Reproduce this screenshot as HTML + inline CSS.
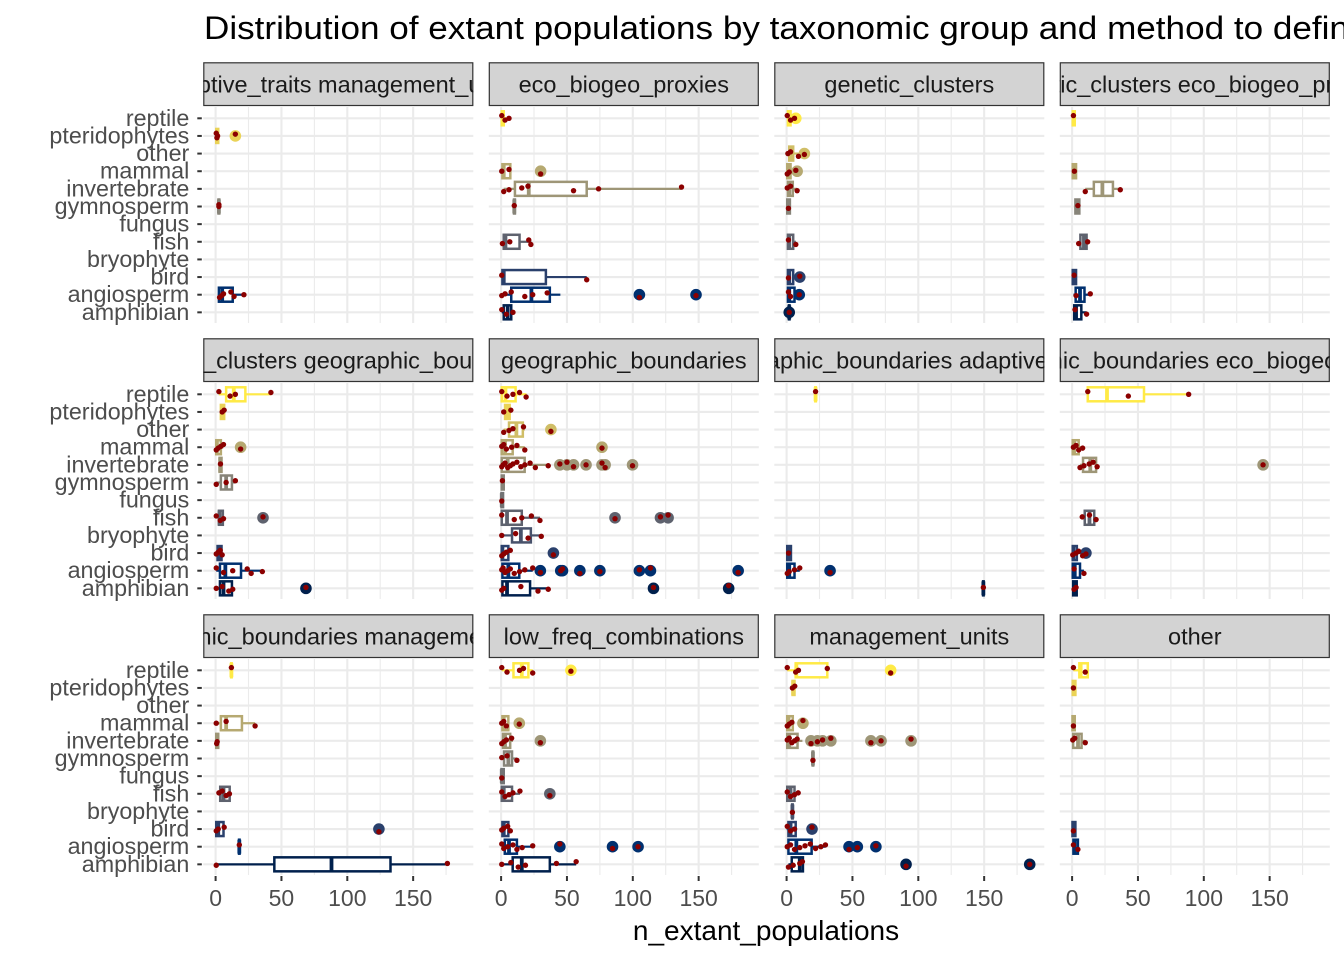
<!DOCTYPE html>
<html><head><meta charset="utf-8"><style>
html,body{margin:0;padding:0;background:#fff;}
svg{display:block;font-family:"Liberation Sans",Arial,sans-serif;}
</style></head><body>
<svg id="chart" width="1344" height="960" viewBox="0 0 1344 960" xmlns="http://www.w3.org/2000/svg">
<text transform="translate(204,39) scale(1.08,1)" x="0" y="0" font-size="32.5" fill="#000">Distribution of extant populations by taxonomic group and method to define populations</text>
<text x="766" y="940" font-size="28" text-anchor="middle" fill="#000">n_extant_populations</text>
</svg>
<script>
const categories = ["reptile","pteridophytes","other","mammal","invertebrate","gymnosperm","fungus","fish","bryophyte","bird","angiosperm","amphibian"];
const catColors = {amphibian:"#00204D",angiosperm:"#00306F",bird:"#2A406C",bryophyte:"#48526B",fish:"#5E626E",fungus:"#727374",gymnosperm:"#878479",invertebrate:"#9E9677",mammal:"#B6A971",other:"#D0BE67",pteridophytes:"#EAD357",reptile:"#FFEA46"};
const xTicks = [0,50,100,150];
const xMinor = [25,75,125,175];
const panelNames = ["adaptive_traits management_units","eco_biogeo_proxies","genetic_clusters","genetic_clusters eco_biogeo_proxies","genetic_clusters geographic_boundaries","geographic_boundaries","geographic_boundaries adaptive_traits","geographic_boundaries eco_biogeo_proxies","geographic_boundaries management_units","low_freq_combinations","management_units","other"];
// [category, min, q1, median, q3, max, outliers, points]
const p1 = [["pteridophytes",0,0.5,1,2,3,[15],[0.5,1,1.5,15]],["gymnosperm",2,2.2,2.5,2.8,3,[],[2.5,2.5]],["angiosperm",2,2.5,5,13,21.5,[],[3,4.7,6,11.6,14,21.5]]];
const p2 = [["reptile",0,0.5,1,2,6,[],[0.5,3,6]],["mammal",0.5,1,2,7,8,[30],[0.5,6,30]],["invertebrate",2,10.5,21,65,137,[],[2,6,15.7,20.4,55,74,137]],["gymnosperm",9.5,9.8,10,10.5,11,[],[10]],["fish",1,2,3.3,14,23,[],[1,6.6,21,22.6]],["bird",0.5,1,2,34,65,[],[0.5,65]],["angiosperm",0.5,7.7,23,37,45,[105,148],[0.5,3,7.7,18,24,35,105,148]],["amphibian",0.5,2,5,7.7,9,[],[0.5,4,9]]];
const p3 = [["reptile",0.5,1,2,3,5,[7],[0.5,3,6]],["other",1,2,3,5,9,[13.5],[1,3,9,13.5]],["mammal",0,0.5,1.5,3,4,[8],[0.5,2,7]],["invertebrate",0.5,1,2,4.7,8,[],[0.5,3,8]],["gymnosperm",0,0.5,1,2.5,2.5,[],[1.4]],["fish",0.5,1,2,5,7,[],[1.4,7]],["bird",0.5,1,2,5,5,[10],[1.4,10]],["angiosperm",0.5,1,2,6,6,[9.6],[1.4,3,9.6]],["amphibian",1.5,1.8,2,2.2,2.5,[2],[2]]];
const p4 = [["reptile",0,0.5,1,2,3,[],[1]],["mammal",0,0.5,1.5,3,4,[],[1.7]],["invertebrate",10,16.5,23,31,36.6,[],[10,36.6]],["gymnosperm",2.2,2.5,4,5.5,6,[],[4.4]],["fish",5,6.3,9,11,11.8,[],[5,11.8]],["bird",0,0.5,1,3,3.6,[],[1.5]],["angiosperm",1,2.7,6,9.4,13.8,[],[3,13.8]],["amphibian",1,1.6,3,7,11,[],[2.2,11]]];
const p5 = [["reptile",2.5,8,13.8,22.6,42,[],[2.5,11,15,42]],["pteridophytes",3.3,4,5,6.5,7.4,[],[5,6.5]],["mammal",0,0.5,1,4,6,[19],[0.5,2,4,6,19]],["invertebrate",2.5,3,3.5,4.5,5,[],[3.7]],["gymnosperm",0.5,4,8,12.4,15,[],[0.5,8,15]],["fish",2,2.5,3,5.5,6,[36],[0.5,3.5,6,36]],["bird",0.5,1.5,3,4.5,5,[],[0.5,2,3.5,5]],["angiosperm",0.5,3.3,7.4,19.3,35.5,[],[0.5,6,13,24,27,35.5]],["amphibian",0,3.3,6,12.4,14.3,[68.6],[0.5,5,10,13,68.6]]];
const p6 = [["reptile",0,0.5,3.3,11,19.3,[],[0.5,4.5,9,14,19]],["pteridophytes",2,3,5,6.5,7.4,[],[2,7.4]],["other",2,6,11.6,16.5,18,[37.8],[2,6,9,17,37.8]],["mammal",0.5,0.5,3,8.8,18,[76.6],[0.5,2,4,8,12,18,76.6]],["invertebrate",0.5,0.5,5,17.9,35.8,[44.6,50,55,64.5,76.6,79,99.8],[0.5,1.5,3,5,7,9,12,15,18,22,26,35.8,44.6,50,55,64.5,76.6,79,99.8]],["gymnosperm",0,0.5,1,2,2.8,[],[1]],["fungus",0,0.3,0.5,1.5,2,[],[0.5]],["fish",0.5,0.5,4.5,15.7,29.5,[86.5,121,126.8],[0.5,10,15.7,23,29.5,86.5,121,126.8]],["bryophyte",0,8.3,15,22.6,31.1,[],[0.5,11,20.5,30.5]],["bird",0,0.5,1,5.5,6,[39.7],[0.5,2,4,7,39.7]],["angiosperm",0.5,1,5.5,13.8,24,[29.8,45.3,46.6,59.8,75,105,113.4,180],[0.5,1.5,3,5,7,10,14,18,24,29.8,45.3,46.6,59.8,75,105,113.4,180]],["amphibian",0.5,1,4.5,22,35.8,[115.7,172.8],[0.5,2,15,28,35.8,115.7,172.8]]];
const p7 = [["reptile",21.5,21.8,22,22.2,22.5,[],[22]],["bird",0,0.5,1.5,3.3,3.5,[],[1.5]],["angiosperm",0.5,0.5,2,6,10,[33],[0.5,2,6,10,33]],["amphibian",149,149.2,149.4,149.6,150,[],[149.4]]];
const p8 = [["reptile",11.9,11.9,26.5,54.6,88.5,[],[11.9,42.7,88.5]],["mammal",0,0.5,1.5,5,8,[],[1,3,5,8]],["invertebrate",6,8.3,13.8,18.2,19,[145],[6,9,13,16,19,145]],["fish",7.7,9.6,13.2,16.8,18.2,[],[7.7,13.2,18.2]],["bird",0,0.5,1,3.6,8,[10.5],[0.5,3,5,8,10.5]],["angiosperm",0.5,0.5,2,6,9,[],[1.5,9]],["amphibian",0.5,0.8,1.5,3.5,4,[],[1.5,3]]];
const p9 = [["reptile",11.5,11.8,12,12.2,12.5,[],[12]],["mammal",0.5,4,8,20,30,[],[0.5,8,30]],["invertebrate",0,0.5,1,2,2,[],[0.8,1.2]],["fish",3.3,3.5,6,10.7,11,[],[2.5,5,8,10.5]],["bird",0,0.5,2,6,6,[124],[0.5,2,6.5,124]],["angiosperm",17.5,17.8,18,18.2,18.5,[],[18]],["amphibian",0.5,44.6,88,132.8,176,[],[0.5,176]]];
const p10 = [["reptile",0.5,9.4,15.7,20.7,24,[53],[0.5,4.5,14,17,24,53]],["mammal",0.5,1,2,5.5,6,[13.8],[0.5,2,4,13.8]],["invertebrate",0.5,1.4,3,6.9,9,[29.8],[0.5,2,4,8,29.8]],["gymnosperm",0.5,2.2,5.5,8.3,12,[],[0.5,4.5,12]],["fungus",0,0.3,0.5,2,2,[],[0.5]],["fish",0.5,0.5,2,8.3,14.3,[37],[0.5,3,6,9,14.3,37]],["bird",0.5,1,2,5.5,7,[],[0.5,2,5,7]],["angiosperm",0.5,2.8,6,12,24,[44.6,84.6,104],[0.5,2,5,9,12,16,24,44.6,84.6,104]],["amphibian",0.5,8.8,15.7,37,57,[],[0.5,7.4,13,18.5,42,57]]];
const p11 = [["reptile",0.5,6.9,7.4,30.9,30.9,[79],[0.5,6.9,9,30.9,79]],["pteridophytes",4,4.5,5,6,6.6,[],[4.4,6.2]],["mammal",0,0.5,1.5,4.7,6,[12.4],[0.5,2,4,12.4]],["invertebrate",0.5,0.5,2,8.3,12,[18.5,23.4,27.3,33.6,64,71.7,94.5],[0.5,2,4,6,8,18.5,23.4,27.3,33.6,64,71.7,94.5]],["gymnosperm",19.5,19.8,20,20.2,20.5,[],[20]],["fish",0,0.5,3,6,8.8,[],[0.5,3,6,8.8]],["bryophyte",4,4.2,4.4,4.6,4.8,[],[4.4]],["bird",0,1.4,3,6.9,8,[19.3],[0.5,3,6,19.3]],["angiosperm",0.5,1.4,7.4,19,29.5,[47.4,53.7,67.8],[0.5,3,6,10,14,18,22,26,29.5,47.4,53.7,67.8]],["amphibian",1.4,3.9,10,12.4,12.4,[90.7,184.6],[1.4,5,10,12,90.7,184.6]]];
const p12 = [["reptile",1,5.5,6.5,11.9,11.9,[],[1,10]],["pteridophytes",0,0.5,1,2.5,2.8,[],[1]],["mammal",0,0.3,1,2,2.5,[],[1]],["invertebrate",0.5,0.8,4.5,7.2,10,[],[0.5,2,10]],["bird",0,0.3,1,2.5,2.8,[],[1]],["angiosperm",0.5,1,2,4.4,5,[],[1,4.4]]];
const panelStats = [p1,p2,p3,p4,p5,p6,p7,p8,p9,p10,p11,p12];

const NS = "http://www.w3.org/2000/svg";
const svg = document.getElementById("chart");
const colLefts = [203.3,488.8,774.3,1059.8];
const stripTops = [62.3,338.3,614.3];
const PW = 270, STRIPH = 43.7, PH = 217, PXU = 1.317, X0OFF = 12.3;
function mk(tag, attrs, parent){const e=document.createElementNS(NS,tag);for(const k in attrs)e.setAttribute(k,attrs[k]);(parent||svg).appendChild(e);return e;}
function xScale(col, v){return colLefts[col]+X0OFF+v*PXU;}
function yScale(row, cat){return stripTops[row]+STRIPH+12.3+categories.indexOf(cat)*17.64;}

const defs = mk("defs",{});
panelNames.forEach((name,pi)=>{
  const col = pi%4, row = Math.floor(pi/4);
  const L = colLefts[col], T = stripTops[row], PT = T+STRIPH;
  const g = mk("g",{});
  
  
  const cp = mk("clipPath",{id:"clip"+pi},defs);
  mk("rect",{x:L,y:T,width:PW,height:STRIPH},cp);
  const strip = mk("rect",{x:L+0.5,y:T+0.5,width:PW-1,height:STRIPH-1,fill:"#D3D3D3",stroke:"#333333","stroke-width":1.2},g);
  
  
  const st = mk("text",{x:L+PW/2,y:T+30,"font-size":23.5,"text-anchor":"middle",fill:"#1A1A1A","clip-path":"url(#clip"+pi+")"},g);
  st.textContent = name;
  
  
  xMinor.forEach(v=>{const x=xScale(col,v);const l=mk("line",{x1:x,x2:x,y1:PT,y2:PT+PH,stroke:"#EBEBEB","stroke-width":1.1},g);
    
    });
  xTicks.forEach(v=>{const x=xScale(col,v);const l=mk("line",{x1:x,x2:x,y1:PT,y2:PT+PH,stroke:"#EBEBEB","stroke-width":2.1},g);
    
    });
  categories.forEach(c=>{const y=yScale(row,c);const l=mk("line",{x1:L,x2:L+PW,y1:y,y2:y,stroke:"#EBEBEB","stroke-width":2.1},g);
    
    });
  if(col===0){
    categories.forEach(c=>{const y=yScale(row,c);
      const tk=mk("line",{x1:L-6,x2:L-1.5,y1:y,y2:y,stroke:"#333","stroke-width":2},g);
      
      
      const t=mk("text",{x:L-14,y:y+7.5,"font-size":23.3,"text-anchor":"end",fill:"#4D4D4D"},g);
      t.textContent=c;
      
      });
  }
  if(row===2){
    xTicks.forEach(v=>{const x=xScale(col,v);
      const tk=mk("line",{x1:x,x2:x,y1:PT+PH+1,y2:PT+PH+6,stroke:"#333","stroke-width":2},g);
      
      
      const t=mk("text",{x:x,y:PT+PH+31,"font-size":23,"text-anchor":"middle",fill:"#4D4D4D"},g);
      t.textContent=String(v);
      
      });
  }
  panelStats[pi].forEach((s,si)=>{
    const [cat,mn,q1,md,q3,mx,outs,pts]=s;
    const y=yScale(row,cat), c=catColors[cat];
    const bg=mk("g",{},g);
    
    
    const w1=mk("line",{x1:xScale(col,mn),x2:xScale(col,q1),y1:y,y2:y,stroke:c,"stroke-width":2.2},bg);
    
    
    const w2=mk("line",{x1:xScale(col,q3),x2:xScale(col,mx),y1:y,y2:y,stroke:c,"stroke-width":2.2},bg);
    
    
    const bx=mk("rect",{x:xScale(col,q1),y:y-7,width:Math.max(0.5,(q3-q1)*PXU),height:14,fill:"#fff",stroke:c,"stroke-width":2.5},bg);
    
    
    const ml=mk("line",{x1:xScale(col,md),x2:xScale(col,md),y1:y-7,y2:y+7,stroke:c,"stroke-width":3.8},bg);
    
    
    outs.forEach(o=>{const oc=mk("circle",{cx:xScale(col,o),cy:y,r:5.8,fill:c},bg);
      
      });
    pts.forEach((p,k)=>{const dy=(((k*5+si*3)%7)-3)*0.9;
      const jc=mk("circle",{cx:xScale(col,p),cy:y+dy,r:2.7,fill:"#8B0000"},bg);
      
      });
  });
});
</script>
</body></html>
